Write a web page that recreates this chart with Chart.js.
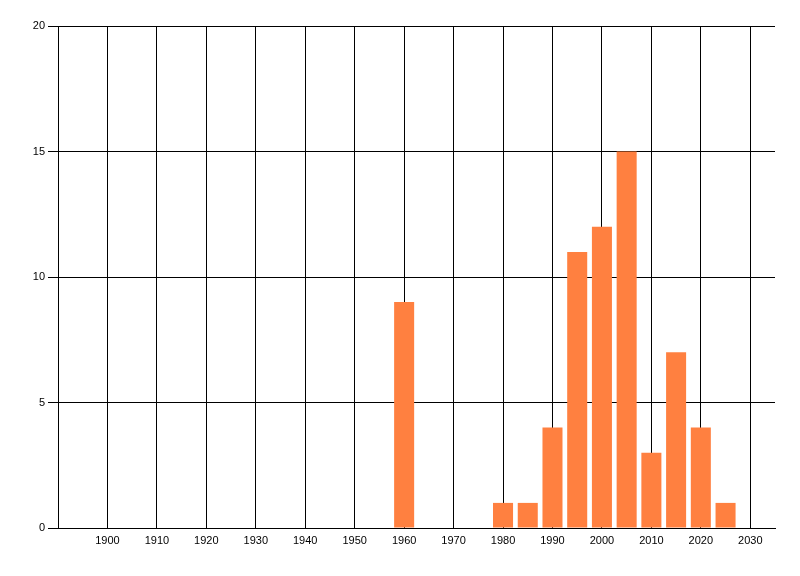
<!DOCTYPE html>
<html>
<head>
<meta charset="utf-8">
<script src="https://cdn.jsdelivr.net/npm/chart.js@4/dist/chart.umd.min.js"></script>
<style>
  html, body { margin:0; padding:0; background:#fff; }
  canvas { display:block; }
</style>
</head>
<body>
<canvas id="c" width="800" height="576"></canvas>
<script>
// values
const years  = [1960, 1980, 1985, 1990, 1995, 2000, 2005, 2010, 2015, 2020, 2025];
const counts = [9, 1, 1, 4, 11, 12, 15, 3, 7, 4, 1];
const xTicks = [1900, 1910, 1920, 1930, 1940, 1950, 1960, 1970, 1980, 1990, 2000, 2010, 2020, 2030];
const yTicks = [0, 5, 10, 15, 20];

const tickFont = { family:"'Liberation Sans', Arial, sans-serif", size:11 };

new Chart(document.getElementById("c"), {
  type:"bar",
  data:{
    datasets:[{
      data: years.map((y, i) => ({ x:y, y:counts[i] })),
      backgroundColor:"rgb(255,128,64)",
      borderWidth:0,
      categoryPercentage:1,
      barPercentage:0.81
    }]
  },
  options:{
    responsive:false,
    devicePixelRatio:1,
    animation:false,
    layout:{ padding:{ top:26, right:25, left:0, bottom:0 } },
    plugins:{ legend:{ display:false }, tooltip:{ enabled:false } },
    scales:{
      x:{
        type:"linear",
        min:1890, max:2035,
        offset:false,
        grid:{ offset:false, color:"#000", lineWidth:1, drawTicks:false },
        border:{ color:"#000", width:1 },
        afterBuildTicks: s => { s.ticks = xTicks.map(v => ({ value:v })); },
        afterFit: s => { s.height = 48; },
        ticks:{ color:"#000", font:tickFont, padding:6, maxRotation:0, callback: v => String(v) }
      },
      y:{
        min:0, max:20,
        grid:{ color:"#000", lineWidth:1, drawTicks:true, tickLength:10, tickColor:"#000" },
        border:{ color:"#000", width:1 },
        afterBuildTicks: s => { s.ticks = yTicks.map(v => ({ value:v })); },
        afterFit: s => { s.width = 58; },
        ticks:{ color:"#000", font:tickFont, padding:3, callback: v => String(v) }
      }
    }
  }
});
</script>
</body>
</html>
